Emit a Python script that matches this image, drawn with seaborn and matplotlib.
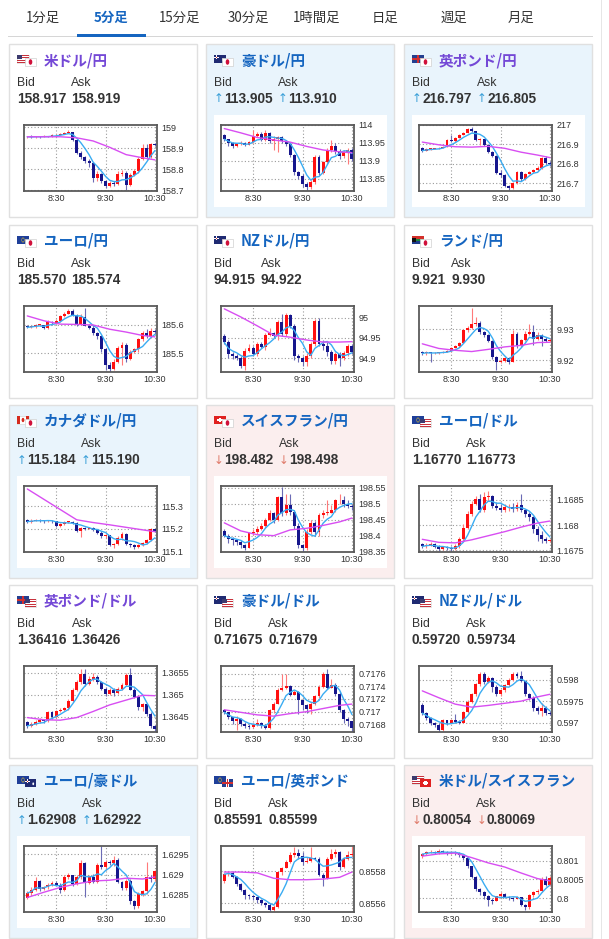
import numpy as np
import pandas as pd
import matplotlib
matplotlib.use("Agg")
import matplotlib.pyplot as plt
import seaborn as sns
from matplotlib.patches import Rectangle, Circle

# ---------------- data ----------------
tabs = ['1分足', '5分足', '15分足', '30分足', '1時間足', '日足', '週足', '月足']
active_tab = '5分足'

pairs = ['米ドル/円', '豪ドル/円', '英ポンド/円', 'ユーロ/円', 'NZドル/円', 'ランド/円',
         'カナダドル/円', 'スイスフラン/円', 'ユーロ/ドル', '英ポンド/ドル', '豪ドル/ドル',
         'NZドル/ドル', 'ユーロ/豪ドル', 'ユーロ/英ポンド', '米ドル/スイスフラン']
flags = [('us', 'jp'), ('au', 'jp'), ('gb', 'jp'), ('eu', 'jp'), ('nz', 'jp'), ('za', 'jp'),
         ('ca', 'jp'), ('ch', 'jp'), ('eu', 'us'), ('gb', 'us'), ('au', 'us'), ('nz', 'us'),
         ('eu', 'au'), ('eu', 'gb'), ('us', 'ch')]
bids = ['158.917', '113.905', '216.797', '185.570', '94.915', '9.921', '115.184', '198.482',
        '1.16770', '1.36416', '0.71675', '0.59720', '1.62908', '0.85591', '0.80054']
asks = ['158.919', '113.910', '216.805', '185.574', '94.922', '9.930', '115.190', '198.498',
        '1.16773', '1.36426', '0.71679', '0.59734', '1.62922', '0.85599', '0.80069']
trend = ['', 'up', 'up', '', '', '', 'up', 'down', '', '', '', '', 'up', '', 'down']
visited = [True, False, True, False, False, False, False, False, False, True,
           False, False, False, False, False]

time_labels = ['8:30', '9:30', '10:30']
time_label_idx = [7, 19, 31]
ma_knots = [0, 4, 8, 12, 16, 20, 24, 28, 31]

first_open = [158.952, 113.972, 216.88, 185.598, 94.955, 9.9228, 115.238, 198.415,
              1.16762, 1.36438, 0.71702, 0.59742, 1.62843, 0.855739, 0.80112]

c01 = [158.955,158.953,158.957,158.955,158.958,158.956,158.962,158.965,158.97,158.975,158.978,158.94,158.88,158.86,158.84,158.83,158.76,158.78,158.745,158.72,158.735,158.73,158.78,158.785,158.725,158.775,158.79,158.85,158.9,158.86,158.92,158.917]
h01 = [158.96,158.962,158.96,158.96,158.962,158.96,158.966,158.97,158.975,158.98,158.985,158.98,158.945,158.885,158.865,158.85,158.835,158.79,158.785,158.75,158.745,158.745,158.79,158.795,158.79,158.785,158.8,158.86,158.92,158.92,158.925,158.925]
l01 = [158.948,158.948,158.95,158.95,158.952,158.952,158.954,158.96,158.963,158.968,158.972,158.935,158.875,158.85,158.83,158.81,158.74,158.745,158.735,158.71,158.715,158.72,158.725,158.77,158.7,158.72,158.77,158.785,158.845,158.85,158.855,158.91]
m01 = [158.955,158.955,158.955,158.95,158.935,158.905,158.87,158.855,158.845]

c02 = [113.96,113.949,113.94,113.946,113.95,113.945,113.952,113.968,113.976,113.958,113.978,113.955,113.96,113.965,113.955,113.948,113.915,113.868,113.858,113.835,113.826,113.84,113.91,113.866,113.895,113.93,113.942,113.928,113.912,113.925,113.93,113.905]
h02 = [113.975,113.962,113.952,113.95,113.955,113.952,113.956,113.986,113.98,113.98,113.985,113.98,113.968,113.97,113.968,113.958,113.95,113.918,113.87,113.862,113.84,113.845,113.915,113.915,113.9,113.935,113.957,113.95,113.932,113.93,113.935,113.935]
l02 = [113.955,113.94,113.935,113.938,113.944,113.94,113.943,113.95,113.965,113.954,113.955,113.95,113.93,113.925,113.95,113.94,113.91,113.86,113.85,113.825,113.818,113.822,113.835,113.86,113.862,113.89,113.925,113.92,113.905,113.908,113.89,113.898]
m02 = [113.99,113.978,113.965,113.958,113.952,113.94,113.93,113.925,113.922]

c03 = [216.868,216.875,216.878,216.88,216.884,216.888,216.922,216.915,216.935,216.95,216.96,216.978,216.968,216.925,216.928,216.895,216.86,216.84,216.752,216.74,216.686,216.675,216.7,216.76,216.72,216.75,216.76,216.77,216.78,216.83,216.805,216.797]
h03 = [216.885,216.88,216.882,216.884,216.888,216.892,216.926,216.95,216.94,216.955,216.965,216.982,216.99,216.97,216.935,216.93,216.9,216.865,216.845,216.77,216.745,216.69,216.705,216.765,216.765,216.755,216.765,216.775,216.79,216.835,216.84,216.815]
l03 = [216.862,216.865,216.872,216.875,216.878,216.882,216.886,216.91,216.913,216.932,216.948,216.958,216.964,216.92,216.895,216.89,216.855,216.835,216.745,216.73,216.68,216.665,216.67,216.695,216.712,216.715,216.745,216.755,216.765,216.775,216.8,216.79]
m03 = [216.912,216.898,216.888,216.886,216.89,216.88,216.86,216.845,216.832]

c04 = [185.592,185.594,185.6,185.601,185.588,185.612,185.607,185.615,185.632,185.64,185.65,185.635,185.605,185.628,185.598,185.59,185.57,185.56,185.514,185.46,185.445,185.47,185.52,185.53,185.48,185.505,185.515,185.55,185.57,185.56,185.58,185.574]
h04 = [185.6,185.598,185.604,185.605,185.6,185.616,185.614,185.62,185.636,185.645,185.655,185.657,185.64,185.64,185.66,185.605,185.6,185.575,185.565,185.52,185.47,185.48,185.525,185.54,185.535,185.51,185.52,185.555,185.58,185.585,185.59,185.585]
l04 = [185.588,185.588,185.59,185.596,185.585,185.585,185.6,185.604,185.612,185.628,185.638,185.63,185.598,185.6,185.595,185.585,185.565,185.55,185.505,185.44,185.435,185.44,185.465,185.46,185.47,185.475,185.5,185.505,185.545,185.553,185.555,185.568]
m04 = [185.632,185.615,185.603,185.602,185.6,185.585,185.575,185.563,185.558]

c05 = [94.939,94.91,94.905,94.9,94.88,94.918,94.925,94.91,94.935,94.928,94.957,94.962,94.955,94.99,94.96,95.008,94.98,94.905,94.9,94.89,94.905,94.935,94.992,94.935,94.93,94.915,94.893,94.91,94.9,94.912,94.93,94.915]
h05 = [94.96,94.945,94.915,94.91,94.905,94.925,94.935,94.93,94.94,94.94,94.962,94.975,94.965,94.995,95.01,95.012,95.01,94.985,94.91,94.905,94.912,94.94,94.998,95.0,94.945,94.94,94.92,94.915,94.915,94.918,94.935,94.935]
l05 = [94.935,94.9,94.898,94.895,94.875,94.872,94.915,94.905,94.905,94.925,94.92,94.955,94.95,94.945,94.955,94.955,94.975,94.895,94.89,94.882,94.88,94.9,94.93,94.93,94.92,94.905,94.885,94.885,94.88,94.895,94.905,94.91]
m05 = [95.022,95.002,94.98,94.957,94.952,94.945,94.94,94.94,94.941]

c06 = [9.9222,9.9226,9.9222,9.9224,9.9225,9.9228,9.923,9.924,9.9245,9.9257,9.9297,9.9305,9.9317,9.932,9.929,9.928,9.9262,9.921,9.9193,9.9198,9.9208,9.9195,9.9284,9.9245,9.9265,9.9285,9.929,9.927,9.9282,9.9268,9.9262,9.9266]
h06 = [9.923,9.9229,9.9228,9.9227,9.9228,9.923,9.9233,9.9243,9.9248,9.926,9.93,9.9312,9.9368,9.934,9.9325,9.9295,9.9285,9.9265,9.9215,9.9205,9.9212,9.921,9.9296,9.929,9.927,9.9295,9.9318,9.9315,9.9292,9.9285,9.9275,9.9272]
l06 = [9.9218,9.9218,9.9195,9.922,9.9221,9.9223,9.9226,9.9228,9.9238,9.9242,9.9255,9.9292,9.9302,9.931,9.9285,9.9275,9.9258,9.9205,9.9168,9.919,9.9193,9.9188,9.9193,9.924,9.9242,9.9262,9.9282,9.925,9.9265,9.9245,9.9258,9.9258]
m06 = [9.9253,9.9238,9.9232,9.9228,9.9235,9.9243,9.9248,9.9257,9.9258]

c07 = [115.232,115.236,115.239,115.237,115.235,115.236,115.233,115.214,115.222,115.23,115.232,115.228,115.19,115.205,115.2,115.205,115.195,115.183,115.167,115.172,115.13,115.135,115.16,115.18,115.135,115.128,115.12,115.128,115.138,115.152,115.198,115.19]
h07 = [115.245,115.242,115.244,115.243,115.24,115.24,115.24,115.236,115.226,115.234,115.236,115.236,115.23,115.21,115.21,115.21,115.208,115.2,115.19,115.178,115.175,115.14,115.17,115.188,115.182,115.14,115.132,115.132,115.142,115.155,115.202,115.2]
l07 = [115.228,115.228,115.233,115.232,115.228,115.23,115.228,115.21,115.21,115.218,115.226,115.222,115.186,115.165,115.195,115.198,115.19,115.178,115.16,115.162,115.125,115.118,115.13,115.15,115.13,115.12,115.11,115.115,115.125,115.135,115.148,115.186]
m07 = [115.375,115.33,115.285,115.24,115.228,115.218,115.207,115.196,115.188]

c08 = [198.4,198.39,198.385,198.38,198.372,198.362,198.408,198.41,198.42,198.43,198.45,198.47,198.45,198.52,198.47,198.495,198.475,198.43,198.37,198.362,198.41,198.44,198.41,198.465,198.47,198.472,198.48,198.51,198.51,198.5,198.492,198.488]
h08 = [198.42,198.405,198.395,198.39,198.385,198.375,198.412,198.42,198.43,198.44,198.455,198.48,198.475,198.525,198.553,198.53,198.53,198.48,198.44,198.375,198.42,198.45,198.445,198.47,198.48,198.512,198.495,198.515,198.53,198.525,198.51,198.5]
l08 = [198.395,198.378,198.37,198.372,198.362,198.355,198.36,198.402,198.405,198.418,198.425,198.445,198.44,198.445,198.462,198.465,198.465,198.42,198.36,198.352,198.355,198.405,198.4,198.4,198.455,198.465,198.47,198.475,198.5,198.49,198.485,198.48]
m08 = [198.44,198.415,198.403,198.4,198.418,198.423,198.432,198.443,198.455]

c09 = [1.16758,1.16761,1.16762,1.16757,1.16752,1.16757,1.16754,1.16753,1.16759,1.16772,1.16795,1.16821,1.16841,1.16851,1.16829,1.16856,1.16858,1.16838,1.16834,1.1683,1.16835,1.16836,1.16832,1.1684,1.16829,1.16821,1.16815,1.16792,1.1678,1.16772,1.16769,1.1677]
h09 = [1.16765,1.16764,1.16766,1.16765,1.1676,1.16759,1.16759,1.16758,1.16762,1.16776,1.16802,1.16827,1.16848,1.16858,1.16862,1.16865,1.16868,1.1686,1.16845,1.16842,1.16842,1.16842,1.16843,1.16846,1.16862,1.16832,1.16826,1.16818,1.16798,1.16788,1.16776,1.16773]
l09 = [1.16754,1.16755,1.16758,1.16754,1.16749,1.1675,1.16751,1.16749,1.1675,1.16755,1.16768,1.16792,1.16818,1.16839,1.16825,1.16825,1.16848,1.16834,1.1683,1.16826,1.16826,1.16828,1.16826,1.16828,1.16825,1.16815,1.16808,1.16785,1.16768,1.16765,1.16765,1.16766]
m09 = [1.16772,1.16766,1.16765,1.16771,1.16779,1.16787,1.16796,1.16804,1.16808]

c10 = [1.36429,1.36433,1.36438,1.36442,1.3644,1.3646,1.36449,1.36462,1.36466,1.36469,1.36487,1.36512,1.36529,1.36548,1.36525,1.36536,1.36541,1.36529,1.36514,1.36502,1.36512,1.36505,1.36514,1.36522,1.36545,1.36512,1.36495,1.36472,1.36478,1.36456,1.36429,1.36422]
h10 = [1.3644,1.36437,1.36442,1.36446,1.36445,1.36462,1.36462,1.36466,1.3647,1.36473,1.3649,1.36515,1.36533,1.36558,1.36558,1.36542,1.3655,1.36545,1.36532,1.36518,1.36516,1.36516,1.36518,1.36528,1.3655,1.36562,1.36515,1.36498,1.36482,1.3648,1.3646,1.36432]
l10 = [1.36425,1.36426,1.3643,1.36436,1.36436,1.36438,1.36445,1.36447,1.3646,1.36462,1.36465,1.36484,1.36508,1.36525,1.3652,1.36522,1.36532,1.36525,1.3651,1.36498,1.365,1.36498,1.36502,1.3651,1.3652,1.3651,1.36492,1.36465,1.36462,1.36452,1.36425,1.36418]
m10 = [1.36448,1.36443,1.36442,1.36448,1.36462,1.36477,1.36488,1.36499,1.36498]

c11 = [0.71699,0.71691,0.71685,0.71688,0.71681,0.71678,0.71676,0.71679,0.71682,0.71677,0.71675,0.71702,0.71712,0.71734,0.71738,0.71741,0.71727,0.71731,0.71718,0.7171,0.71704,0.71712,0.71724,0.71739,0.7176,0.71738,0.71742,0.71728,0.71702,0.71688,0.71685,0.71675]
h11 = [0.71705,0.717,0.71692,0.71694,0.7169,0.71683,0.71681,0.71682,0.71688,0.71684,0.71681,0.71705,0.71716,0.71737,0.7176,0.7176,0.71742,0.71734,0.71733,0.7172,0.71712,0.71716,0.71727,0.71742,0.71763,0.71768,0.71752,0.71745,0.71732,0.71705,0.71692,0.71686]
l11 = [0.71696,0.71688,0.7168,0.71671,0.71678,0.71674,0.71673,0.71675,0.71678,0.71674,0.71672,0.71673,0.71698,0.71712,0.71732,0.71735,0.71725,0.71726,0.71696,0.71702,0.71698,0.71696,0.7171,0.71722,0.71737,0.71736,0.71738,0.71724,0.717,0.71682,0.71678,0.71668]
m11 = [0.71703,0.71699,0.71695,0.71693,0.71697,0.717,0.71705,0.7171,0.71712]

c12 = [0.59722,0.59711,0.59699,0.59695,0.59683,0.59705,0.597,0.59705,0.59702,0.597,0.59724,0.59748,0.59766,0.5979,0.59813,0.59795,0.59805,0.59784,0.59766,0.59775,0.59788,0.598,0.59813,0.59808,0.59797,0.59766,0.59758,0.59734,0.59726,0.59735,0.59722,0.5972]
h12 = [0.59745,0.59724,0.59712,0.59702,0.59698,0.59708,0.59706,0.59708,0.5972,0.59705,0.59727,0.59752,0.5977,0.59792,0.59818,0.59818,0.59809,0.59806,0.59788,0.59779,0.5979,0.59804,0.59818,0.59818,0.5982,0.59798,0.59768,0.59762,0.59738,0.59745,0.59738,0.59726]
l12 = [0.59718,0.59706,0.59694,0.5969,0.59679,0.5968,0.59695,0.59698,0.59698,0.59696,0.59698,0.59722,0.59745,0.59763,0.59786,0.5979,0.59792,0.59772,0.59762,0.59763,0.59772,0.59786,0.59798,0.59805,0.59794,0.59762,0.59752,0.59728,0.5972,0.59716,0.59718,0.59717]
m12 = [0.59774,0.59758,0.59743,0.59736,0.5974,0.59745,0.5975,0.5976,0.59766]

c13 = [1.62854,1.62862,1.62885,1.62865,1.62868,1.62875,1.6288,1.62875,1.62862,1.62893,1.62898,1.62876,1.62895,1.62928,1.6288,1.62893,1.62882,1.62925,1.62918,1.62932,1.62928,1.62935,1.62882,1.62866,1.62885,1.62834,1.62822,1.62852,1.62858,1.62895,1.62888,1.62908]
h13 = [1.6286,1.62868,1.62895,1.62886,1.62872,1.6288,1.62885,1.62885,1.62878,1.62898,1.62905,1.629,1.62898,1.62935,1.62932,1.62898,1.62902,1.62928,1.6297,1.62935,1.62935,1.62947,1.62942,1.62885,1.62888,1.62888,1.62838,1.62856,1.62862,1.62932,1.629,1.62912]
l13 = [1.6284,1.6285,1.6286,1.6286,1.62862,1.62865,1.62872,1.62872,1.62855,1.62858,1.62888,1.62872,1.62875,1.6289,1.62845,1.62877,1.62878,1.62878,1.62915,1.62912,1.62925,1.62922,1.62878,1.62862,1.62862,1.62828,1.62814,1.62818,1.62848,1.62852,1.62882,1.62885]
m13 = [1.62843,1.62856,1.62868,1.62877,1.62884,1.62886,1.62891,1.62889,1.62894]

c14 = [0.855782,0.855793,0.855765,0.855724,0.855685,0.855654,0.855645,0.855637,0.855622,0.8556,0.855589,0.855557,0.85558,0.855795,0.855822,0.855857,0.855904,0.855918,0.855896,0.85586,0.855865,0.855882,0.855878,0.855778,0.85576,0.855876,0.855909,0.855922,0.855825,0.855875,0.855905,0.85591]
h14 = [0.85579,0.8558,0.855805,0.85577,0.85573,0.85569,0.85566,0.85565,0.85564,0.85563,0.85561,0.8556,0.85559,0.8558,0.85583,0.85587,0.85592,0.85595,0.85594,0.85592,0.85589,0.85595,0.85589,0.85589,0.85579,0.85589,0.85594,0.85594,0.85593,0.85589,0.85593,0.85596]
l14 = [0.85573,0.85577,0.85576,0.85571,0.85568,0.85563,0.85563,0.85562,0.8556,0.85559,0.85558,0.85555,0.85555,0.85557,0.85578,0.85582,0.85585,0.85589,0.85588,0.85584,0.85585,0.85586,0.85587,0.85577,0.85571,0.85575,0.85587,0.85589,0.85581,0.85582,0.85587,0.85589]
m14 = [0.855796,0.855796,0.855791,0.855757,0.855748,0.855748,0.855752,0.855763,0.855796]

c15 = [0.80117,0.80122,0.80124,0.8012,0.80126,0.80122,0.8012,0.80123,0.8012,0.80115,0.80107,0.80085,0.80057,0.80024,0.80016,0.80005,0.79995,0.79993,0.80005,0.80012,0.80003,0.8,0.79998,0.80002,0.79982,0.79976,0.80008,0.80015,0.8002,0.8005,0.80035,0.80054]
h15 = [0.80121,0.80126,0.80128,0.80127,0.8013,0.80128,0.80126,0.80126,0.80125,0.80123,0.80118,0.80108,0.80087,0.80058,0.80028,0.80018,0.80008,0.8,0.80007,0.80016,0.80014,0.80006,0.80003,0.80006,0.80004,0.79984,0.8001,0.80018,0.80024,0.80056,0.80058,0.80058]
l15 = [0.80108,0.80114,0.8012,0.80118,0.80117,0.8012,0.80116,0.80118,0.80116,0.80111,0.80102,0.8008,0.80053,0.8002,0.80008,0.79998,0.79978,0.79985,0.79992,0.80003,0.8,0.79996,0.79993,0.79997,0.79978,0.79967,0.79972,0.80004,0.80012,0.80017,0.80032,0.80033]
m15 = [0.80112,0.80118,0.8012,0.80108,0.80094,0.80083,0.80067,0.80052,0.80046]

y_limits = [(158.697, 159.011), (113.815, 114.0), (216.66, 217.0), (185.434, 185.667),
            (94.866, 95.029), (9.9162, 9.9375), (115.099, 115.388), (198.349, 198.555),
            (1.16747, 1.16877), (1.36415, 1.36566), (0.71668, 0.71772), (0.59678, 0.59832),
            (1.62807, 1.62971), (0.855546, 0.855959), (0.79963, 0.80139)]
y_ticks = [[158.7, 158.8, 158.9, 159], [113.85, 113.9, 113.95, 114], [216.7, 216.8, 216.9, 217],
           [185.5, 185.6], [94.9, 94.95, 95], [9.92, 9.93], [115.1, 115.2, 115.3],
           [198.35, 198.4, 198.45, 198.5, 198.55], [1.1675, 1.168, 1.1685],
           [1.3645, 1.365, 1.3655], [0.7168, 0.717, 0.7172, 0.7174, 0.7176],
           [0.597, 0.5975, 0.598], [1.6285, 1.629, 1.6295], [0.8556, 0.8558],
           [0.8, 0.8005, 0.801]]

closes = [c01, c02, c03, c04, c05, c06, c07, c08, c09, c10, c11, c12, c13, c14, c15]
highs = [h01, h02, h03, h04, h05, h06, h07, h08, h09, h10, h11, h12, h13, h14, h15]
lows = [l01, l02, l03, l04, l05, l06, l07, l08, l09, l10, l11, l12, l13, l14, l15]
long_ma = [m01, m02, m03, m04, m05, m06, m07, m08, m09, m10, m11, m12, m13, m14, m15]

# ---------------- style ----------------
sns.set_theme(style="white")
plt.rcParams['font.family'] = ['Noto Sans CJK JP', 'DejaVu Sans']
JP = ['Noto Sans CJK JP', 'DejaVu Sans']
LAT = ['Liberation Sans', 'DejaVu Sans']

W, H = 609, 939
fig = plt.figure(figsize=(W / 100, H / 100), dpi=100)
fig.patch.set_facecolor('white')


def fx(x):
    return x / W


def fy(y):
    return 1 - y / H


def rect(x, y, w, h, fc, ec='none', lw=0, z=1):
    fig.patches.append(Rectangle((fx(x), fy(y + h)), w / W, h / H, transform=fig.transFigure,
                                 facecolor=fc, edgecolor=ec, linewidth=lw, zorder=z))


def dot(x, y, r, fc, z=3):
    fig.patches.append(Circle((fx(x), fy(y)), r / W, transform=fig.transFigure,
                              facecolor=fc, edgecolor='none', zorder=z))


def draw_flag(code, x, y, w, h, z):
    if code == 'jp':
        rect(x, y, w, h, '#ffffff', '#d0d0d0', 0.5, z)
        dot(x + w / 2, y + h / 2, 1.8, '#d0103a', z + 0.1)
    elif code == 'us':
        rect(x, y, w, h, '#ffffff', '#d0d0d0', 0.4, z)
        for k in range(4):
            rect(x, y + k * h / 3.5, w, h / 7, '#c8323c', z=z + 0.05)
        rect(x, y, w * 0.45, h * 0.55, '#3c3b6e', z=z + 0.1)
    elif code in ('au', 'nz'):
        rect(x, y, w, h, '#1f2a72', z=z)
        rect(x, y + h * 0.2, w * 0.45, h * 0.15, '#ffffff', z=z + 0.05)
        rect(x + w * 0.17, y, w * 0.12, h * 0.5, '#ffffff', z=z + 0.05)
        rect(x + w * 0.2, y + h * 0.22, w * 0.06, h * 0.1, '#d32f2f', z=z + 0.06)
        dot(x + w * 0.75, y + h * 0.6, 0.9, '#d32f2f' if code == 'nz' else '#ffffff', z + 0.1)
    elif code == 'gb':
        rect(x, y, w, h, '#243f8f', z=z)
        rect(x, y + h * 0.38, w, h * 0.24, '#ffffff', z=z + 0.05)
        rect(x + w * 0.4, y, w * 0.2, h, '#ffffff', z=z + 0.05)
        rect(x, y + h * 0.43, w, h * 0.14, '#d32f2f', z=z + 0.1)
        rect(x + w * 0.45, y, w * 0.1, h, '#d32f2f', z=z + 0.1)
    elif code == 'eu':
        rect(x, y, w, h, '#1f3f99', z=z)
        dot(x + w * 0.5, y + h * 0.5, 1.6, '#c9b03a', z + 0.05)
        dot(x + w * 0.5, y + h * 0.5, 1.1, '#1f3f99', z + 0.1)
    elif code == 'za':
        rect(x, y, w, h * 0.5, '#d3302a', z=z)
        rect(x, y + h * 0.5, w, h * 0.5, '#1f3c8c', z=z)
        rect(x, y + h * 0.33, w, h * 0.34, '#1d8a3a', z=z + 0.05)
        rect(x, y + h * 0.2, w * 0.3, h * 0.6, '#111111', z=z + 0.1)
    elif code == 'ca':
        rect(x, y, w, h, '#ffffff', '#d0d0d0', 0.4, z)
        rect(x, y, w * 0.25, h, '#d52b1e', z=z + 0.05)
        rect(x + w * 0.75, y, w * 0.25, h, '#d52b1e', z=z + 0.05)
        dot(x + w / 2, y + h / 2, 1.4, '#d52b1e', z + 0.1)
    elif code == 'ch':
        rect(x, y, w, h, '#e0201f', z=z)
        rect(x + w * 0.4, y + h * 0.2, w * 0.2, h * 0.6, '#ffffff', z=z + 0.05)
        rect(x + w * 0.28, y + h * 0.4, w * 0.44, h * 0.2, '#ffffff', z=z + 0.05)


# ---------------- tabs ----------------
tab_x = [43, 111, 180, 248, 317, 385, 454, 521]
for t, x in zip(tabs, tab_x):
    act = (t == active_tab)
    fig.text(fx(x), fy(18), t, ha='center', va='center', fontsize=9.6, family=JP,
             color='#1565c0' if act else '#333333', fontweight='bold' if act else 'normal')
rect(8, 35.5, 585, 1.5, '#d6d6d6', z=2)
rect(77, 34, 69, 3, '#1565c0', z=3)
rect(601, 0, 1, H, '#e6e6e6', z=1)

# ---------------- cards ----------------
col_left = [9, 206, 404]
row_top = [44, 225, 405, 585, 765]
CW, CH = 188, 173
UP_BG, DN_BG = '#e9f4fc', '#fbeeee'
RED, NAVY = '#ff1010', '#16168c'
RED_W, NAVY_W = '#ff7a7a', '#6b6bb5'
BLUE_MA, MAG_MA = '#3aacf2', '#d84ef2'

renderer = fig.canvas.get_renderer()


def text_w(t):
    return t.get_window_extent(renderer=renderer).width


for i in range(15):
    left = col_left[i % 3]
    top = row_top[i // 3]
    tr = trend[i]
    bg = UP_BG if tr == 'up' else (DN_BG if tr == 'down' else '#ffffff')
    rect(left, top, CW, CH, bg, '#e0e0e0', 1.0, z=1)
    if tr:
        rect(left + 8, top + 71, 173, 92, '#ffffff', z=1.5)

    f1, f2 = flags[i]
    draw_flag(f1, left + 8, top + 11, 12, 8, 3)
    draw_flag(f2, left + 16, top + 14, 11, 8, 4)

    fig.text(fx(left + 35), fy(top + 16), pairs[i], ha='left', va='center', fontsize=10.5,
             family=JP, fontweight='bold', color='#7448d6' if visited[i] else '#1565c0')

    # Bid / Ask
    fig.text(fx(left + 8), fy(top + 39), 'Bid', ha='left', va='center', fontsize=8.8,
             family=LAT, color='#333333')
    arrow = {'up': '↑', 'down': '↓'}.get(tr, '')
    acol = '#3a9fd8' if tr == 'up' else '#e07a6a'
    x = left + 8
    if arrow:
        ta = fig.text(fx(x), fy(top + 55), arrow, ha='left', va='center', fontsize=8.5,
                      family=['DejaVu Sans'], color=acol)
        x += text_w(ta) + 0.5
    tb = fig.text(fx(x), fy(top + 55), bids[i], ha='left', va='center', fontsize=9.8,
                  family=LAT, fontweight='bold', color='#333333')
    x += text_w(tb) + 5
    fig.text(fx(x), fy(top + 39), 'Ask', ha='left', va='center', fontsize=8.8,
             family=LAT, color='#333333')
    if arrow:
        ta = fig.text(fx(x), fy(top + 55), arrow, ha='left', va='center', fontsize=8.5,
                      family=['DejaVu Sans'], color=acol)
        x += text_w(ta) + 0.5
    fig.text(fx(x), fy(top + 55), asks[i], ha='left', va='center', fontsize=9.8,
             family=LAT, fontweight='bold', color='#333333')

    # chart
    ax = fig.add_axes([fx(left + 15), fy(top + 147), 133 / W, 66 / H])
    ax.set_zorder(10)
    ax.set_facecolor('white')
    c = np.array(closes[i])
    o = np.array([first_open[i]] + closes[i][:-1])
    hi = np.array(highs[i])
    lo = np.array(lows[i])
    idx = np.arange(len(c))
    up = c >= o
    y0, y1 = y_limits[i]
    min_body = (y1 - y0) * 0.012
    body = np.maximum(np.abs(c - o), min_body)
    ax.vlines(idx, lo, hi, colors=np.where(up, RED_W, NAVY_W), linewidth=0.8, zorder=2)
    ax.bar(idx, body, bottom=np.minimum(o, c), width=0.72,
           color=np.where(up, RED, NAVY), linewidth=0, zorder=3)

    df = pd.DataFrame({'i': idx, 'ma': pd.Series(c).rolling(5, min_periods=1).mean()})
    sns.lineplot(data=df, x='i', y='ma', ax=ax, color=BLUE_MA, linewidth=1.0, zorder=4)
    dm = pd.DataFrame({'i': ma_knots, 'ma': long_ma[i]})
    sns.lineplot(data=dm, x='i', y='ma', ax=ax, color=MAG_MA, linewidth=1.0, zorder=4)

    ax.set_xlim(-0.8, 31.5)
    ax.set_ylim(y0, y1)
    ax.set_xticks(time_label_idx)
    ax.set_xticklabels(time_labels)
    ax.set_yticks(y_ticks[i])
    ax.set_yticklabels([f'{t:g}' for t in y_ticks[i]])
    ax.yaxis.tick_right()
    ax.tick_params(axis='both', length=0, labelsize=6.5, labelcolor='#333333')
    ax.tick_params(axis='x', pad=2)
    ax.tick_params(axis='y', pad=3)
    for lab in ax.get_xticklabels() + ax.get_yticklabels():
        lab.set_family(LAT)
    ax.set_xlabel('')
    ax.set_ylabel('')
    ax.grid(True, linestyle=(0, (1, 2)), color='#9a9a9a', linewidth=0.8)
    ax.set_axisbelow(True)
    for s in ax.spines.values():
        s.set_visible(True)
        s.set_color('#5a5a5a')
        s.set_linewidth(1.3)

fig.savefig('out.png', dpi=100, facecolor='white')
